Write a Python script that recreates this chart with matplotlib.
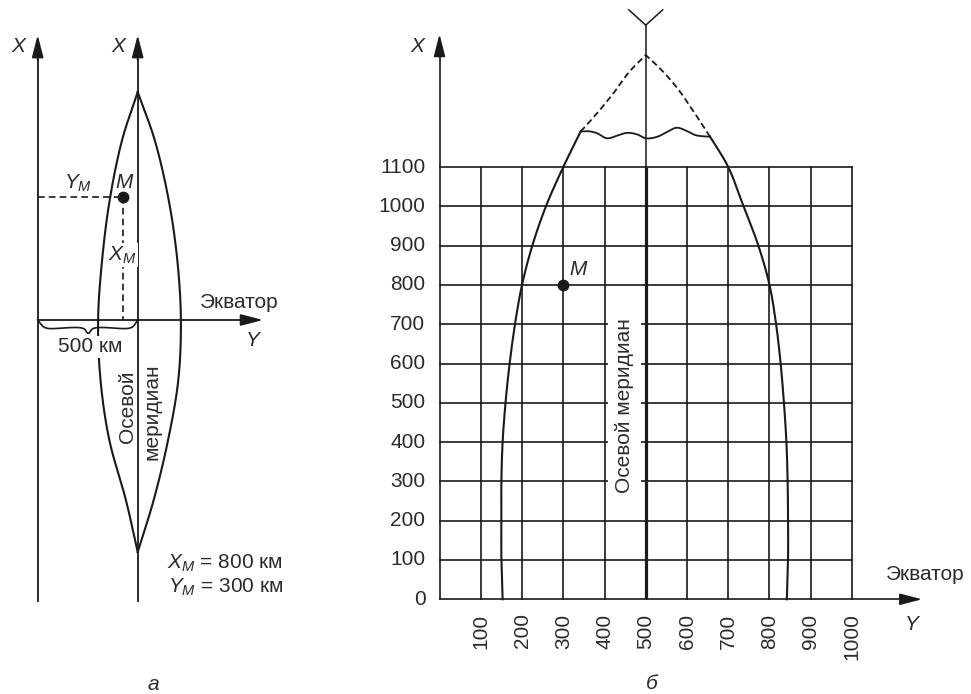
import numpy as np
import matplotlib
matplotlib.use('Agg')
import matplotlib.pyplot as plt

plt.rcParams['font.family'] = ['Liberation Sans', 'DejaVu Sans']
plt.rcParams['mathtext.fontset'] = 'custom'
plt.rcParams['mathtext.rm'] = 'Liberation Sans'
plt.rcParams['mathtext.it'] = 'Liberation Sans:italic'

# ================= DATA =================
# ---- panel б (grid of the zone, km) ----
grid_Y = [0, 100, 200, 300, 400, 500, 600, 700, 800, 900, 1000]
grid_X = [0, 100, 200, 300, 400, 500, 600, 700, 800, 900, 1000, 1100]
x_tick_labels = ['0', '100', '200', '300', '400', '500', '600', '700', '800', '900', '1000', '1100']
y_tick_labels = ['100', '200', '300', '400', '500', '600', '700', '800', '900', '1000']
meridian_Y = 500

# zone boundary (solid part)
left_bound_X = [0, 100, 200, 300, 400, 500, 600, 700, 800, 900, 1000, 1100, 1190]
left_bound_Y = [153, 150, 150, 150, 153, 160, 170, 183, 200, 225, 258, 300, 342]
right_bound_X = [0, 100, 200, 300, 400, 500, 600, 700, 800, 900, 1000, 1100, 1177]
right_bound_Y = [842, 845, 845, 844, 841, 835, 827, 816, 800, 773, 737, 700, 656]
# zone boundary (dashed continuation to the pole)
dash_left_Y = [342, 382, 421, 460, 500]
dash_left_X = [1190, 1237, 1287, 1342, 1385]
dash_right_Y = [656, 616, 577, 538, 500]
dash_right_X = [1177, 1241, 1300, 1347, 1385]
# wavy break line
wave_Y = [342, 362, 382, 406, 431, 455, 479, 501, 528, 553, 575, 599, 621, 656]
wave_X = [1190, 1191, 1186, 1173, 1180, 1187, 1183, 1173, 1177, 1190, 1200, 1192, 1181, 1177]
point_M_b = (300, 800)

# ---- panel а (schematic) ----
lens_left_Y = [500, 422, 360, 322, 302, 314, 358, 441, 500]
lens_left_X = [1140, 900, 600, 300, 0, -300, -600, -900, -1160]
lens_right_Y = [500, 585, 655, 698, 716, 703, 652, 580, 500]
lens_right_X = [1140, 900, 600, 300, 0, -300, -600, -900, -1160]
brace_Y = [0, 28, 51, 228, 253, 278, 451, 476, 500]
brace_X = [0, -33, -42, -42, -67, -42, -42, -33, 0]
point_M_a = (425, 617)
axis_a_Y = [0, 500]

LINE = '#1a1a1a'
TXT = '#2b2b2b'
FS = 15


def smooth(xs, ys, n=20, alpha=0.5):
    """Centripetal Catmull-Rom curve through the given points."""
    P = np.column_stack([xs, ys]).astype(float)
    P = np.vstack([2 * P[0] - P[1], P, 2 * P[-1] - P[-2]])
    out = []
    for i in range(1, len(P) - 2):
        p0, p1, p2, p3 = P[i - 1], P[i], P[i + 1], P[i + 2]
        t0 = 0.0
        t1 = t0 + max(np.linalg.norm(p1 - p0), 1e-6) ** alpha
        t2 = t1 + max(np.linalg.norm(p2 - p1), 1e-6) ** alpha
        t3 = t2 + max(np.linalg.norm(p3 - p2), 1e-6) ** alpha
        t = np.linspace(t1, t2, n, endpoint=False)[:, None]
        A1 = (t1 - t) / (t1 - t0) * p0 + (t - t0) / (t1 - t0) * p1
        A2 = (t2 - t) / (t2 - t1) * p1 + (t - t1) / (t2 - t1) * p2
        A3 = (t3 - t) / (t3 - t2) * p2 + (t - t2) / (t3 - t2) * p3
        B1 = (t2 - t) / (t2 - t0) * A1 + (t - t0) / (t2 - t0) * A2
        B2 = (t3 - t) / (t3 - t1) * A2 + (t - t1) / (t3 - t1) * A3
        C = (t2 - t) / (t2 - t1) * B1 + (t - t1) / (t2 - t1) * B2
        out.append(C)
    out.append(P[-2][None])
    a = np.vstack(out)
    return a[:, 0], a[:, 1]


def arrow(ax, x0, y0, x1, y1, lw=1.3):
    ax.annotate('', xy=(x1, y1), xytext=(x0, y0), annotation_clip=False,
                arrowprops=dict(arrowstyle='-|>,head_length=0.85,head_width=0.22',
                                mutation_scale=16, lw=lw, color=LINE,
                                shrinkA=0, shrinkB=0))


fig = plt.figure(figsize=(9.71, 6.94), dpi=100)

# ================= PANEL а =================
axL = fig.add_axes([0, 0, 1, 1])
axL.set_xlim(-188.5, 4666.5)
axL.set_ylim(-1870, 1600)
axL.axis('off')

for yv in axis_a_Y:
    axL.plot([yv, yv], [-1405, 1300], color=LINE, lw=1.3, zorder=2)
    arrow(axL, yv, 1300, yv, 1425)
arrow(axL, 0, 0, 1127, 0)
axL.text(-98, 1365, 'X', fontsize=FS, style='italic', color=TXT, ha='center', va='center')
axL.text(402, 1365, 'X', fontsize=FS, style='italic', color=TXT, ha='center', va='center')

lx, ly = smooth(lens_left_Y, lens_left_X, n=30)
axL.plot(lx, ly, color=LINE, lw=1.5, zorder=2)
rx, ry = smooth(lens_right_Y, lens_right_X, n=30)
axL.plot(rx, ry, color=LINE, lw=1.5, zorder=2)

bx, by = smooth(brace_Y, brace_X, n=8)
axL.plot(bx, by, color=LINE, lw=1.2, zorder=2)

mY, mX = point_M_a
axL.plot([0, mY], [mX, mX], color=LINE, lw=1.2, ls=(0, (4, 2.5)), zorder=2)
axL.plot([mY, mY], [mX, 0], color=LINE, lw=1.2, ls=(0, (4, 2.5)), zorder=2)
axL.plot([mY], [mX], 'o', color=LINE, ms=7.5, zorder=5)
axL.text(mY + 5, 687, 'M', fontsize=FS, style='italic', color=TXT, ha='center', va='center')
axL.text(202, 685, '$Y_M$', fontsize=FS, color=TXT, ha='center', va='center')
axL.text(422, 325, '$X_M$', fontsize=FS, color=TXT, ha='center', va='center', zorder=6,
         bbox=dict(facecolor='white', edgecolor='none', pad=1))
axL.text(811, 90, 'Экватор', fontsize=FS, color=TXT, ha='left', va='center')
axL.text(1076, -105, 'Y', fontsize=FS, style='italic', color=TXT, ha='center', va='center')
axL.text(262, -135, '500 км', fontsize=FS, color=TXT, ha='center', va='center', zorder=6,
         bbox=dict(facecolor='white', edgecolor='none', pad=1))
axL.text(447, -435, 'Осевой', fontsize=FS, color=TXT, ha='center', va='center', rotation=90)
axL.text(571, -460, 'меридиан', fontsize=FS, color=TXT, ha='center', va='center', rotation=90)
axL.text(1227, -1215, '$X_M$ = 800 км', fontsize=FS, color=TXT, ha='right', va='center')
axL.text(1227, -1335, '$Y_M$ = 300 км', fontsize=FS, color=TXT, ha='right', va='center')
axL.text(579, -1820, 'а', fontsize=FS, style='italic', color=TXT, ha='center', va='center')

# ================= PANEL б =================
axR = fig.add_axes([0, 0, 1, 1])
axR.set_xlim(-1065.5, 1288.5)
axR.set_ylim(-241, 1525)
axR.axis('off')

gmin_Y, gmax_Y = grid_Y[0], grid_Y[-1]
gmin_X, gmax_X = grid_X[0], grid_X[-1]
for xv in grid_X[1:]:
    axR.plot([gmin_Y, gmax_Y], [xv, xv], color=LINE, lw=1.2, zorder=1)
for yv in grid_Y[1:]:
    if yv == meridian_Y:
        continue
    axR.plot([yv, yv], [gmin_X, gmax_X], color=LINE, lw=1.2, zorder=1)
# axes
axR.plot([0, 0], [0, 1380], color=LINE, lw=1.2, zorder=1)
arrow(axR, 0, 1380, 0, 1438, lw=1.2)
axR.plot([0, 1120], [0, 0], color=LINE, lw=1.2, zorder=1)
arrow(axR, 1120, 0, 1170, 0, lw=1.2)

# axial meridian
axR.plot([meridian_Y, meridian_Y], [0, gmax_X], color=LINE, lw=2.3, zorder=4, solid_capstyle='butt')
axR.plot([meridian_Y, meridian_Y], [gmax_X, 1461], color=LINE, lw=1.1, zorder=4)
axR.plot([meridian_Y - 41, meridian_Y, meridian_Y + 41], [1500, 1461, 1500], color=LINE, lw=1.1, zorder=4)

# zone boundary
sx, sy = smooth(left_bound_Y, left_bound_X)
axR.plot(sx, sy, color=LINE, lw=1.5, zorder=3)
sx, sy = smooth(right_bound_Y, right_bound_X)
axR.plot(sx, sy, color=LINE, lw=1.5, zorder=3)
sx, sy = smooth(dash_left_Y, dash_left_X)
axR.plot(sx, sy, color=LINE, lw=1.3, ls=(0, (3.5, 2)), zorder=3)
sx, sy = smooth(dash_right_Y, dash_right_X)
axR.plot(sx, sy, color=LINE, lw=1.3, ls=(0, (3.5, 2)), zorder=3)
sx, sy = smooth(wave_Y, wave_X, n=12)
axR.plot(sx, sy, color=LINE, lw=1.3, zorder=3)

# point M
axR.plot([point_M_b[0]], [point_M_b[1]], 'o', color=LINE, ms=7.5, zorder=5)
axR.text(335, 839, 'M', fontsize=FS, style='italic', color=TXT, ha='center', va='center')

# tick labels
for xv, lab in zip(grid_X, x_tick_labels):
    axR.text(-34, xv, lab, fontsize=FS, color=TXT, ha='right', va='center')
for yv, lab in zip(grid_Y[1:], y_tick_labels):
    axR.text(yv, -36, lab, fontsize=FS, color=TXT, ha='center', va='top', rotation=90)

axR.text(-54, 1406, 'X', fontsize=FS, style='italic', color=TXT, ha='center', va='center')
axR.text(1081, 62, 'Экватор', fontsize=FS, color=TXT, ha='left', va='center')
axR.text(1145, -63, 'Y', fontsize=FS, style='italic', color=TXT, ha='center', va='center')
axR.text(449, 492, 'Осевой меридиан', fontsize=FS, color=TXT, ha='center', va='center',
         rotation=90, zorder=2, bbox=dict(facecolor='white', edgecolor='none', pad=5))
axR.text(515, -215, 'б', fontsize=FS, style='italic', color=TXT, ha='center', va='center')

fig.savefig('out.png', dpi=100)
